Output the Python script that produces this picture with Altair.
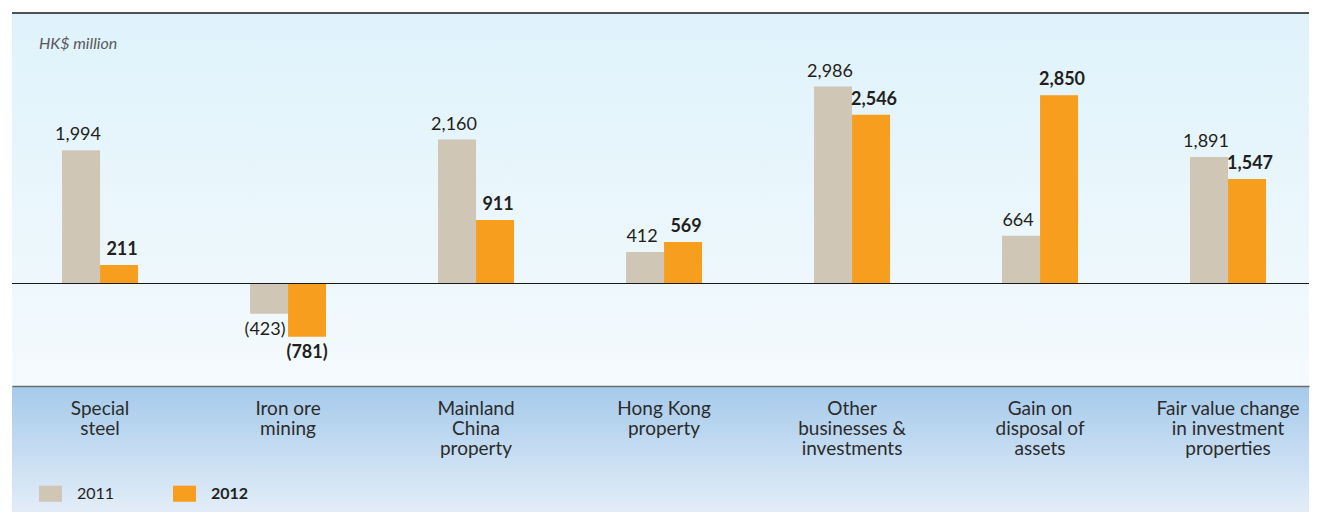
import altair as alt
import pandas as pd

categories = [
    "Special\nsteel",
    "Iron ore\nmining",
    "Mainland\nChina\nproperty",
    "Hong Kong\nproperty",
    "Other\nbusinesses &\ninvestments",
    "Gain on\ndisposal of\nassets",
    "Fair value change\nin investment\nproperties",
]
years = ["2011", "2012"]
values_2011 = [1994, -423, 2160, 412, 2986, 664, 1891]
values_2012 = [211, -781, 911, 569, 2546, 2850, 1547]

rows = []
for i, c in enumerate(categories):
    rows.append({"cat": c, "year": "2011", "value": values_2011[i]})
    rows.append({"cat": c, "year": "2012", "value": values_2012[i]})
df = pd.DataFrame(rows)

FONT = "Lato"
TXT = "#231f20"
W, H = 1297, 373
BW = 38

xscale = alt.Scale(domain=categories, paddingInner=0.596, paddingOuter=0.2475, align=0.538)
yscale = alt.Scale(domain=[-1594, 4207], nice=False, zero=False)
cscale = alt.Scale(domain=years, range=["#cfc6b6", "#f79e1e"])

base = alt.Chart(df).transform_calculate(
    label="datum.value < 0 ? '(' + format(abs(datum.value), ',') + ')' : format(datum.value, ',')"
)

xenc = alt.X(
    "cat:N", scale=xscale, sort=categories, title=None,
    axis=alt.Axis(
        labelExpr="split(datum.value, '\\n')", labelAngle=0, ticks=False, tickSize=0,
        labelPadding=13, labelFontSize=19, labelFont=FONT, labelColor="#2b2b2b",
        labelLineHeight=20, labelBaseline="top", domain=True, domainColor="#6b6b6b",
        domainWidth=1.5, grid=False, zindex=2,
    ),
)
yenc = alt.Y("value:Q", scale=yscale, axis=None)


def grad(c1, c2, c3=None):
    stops = [{"offset": 0, "color": c1}]
    if c3:
        stops += [{"offset": 0.72, "color": c2}, {"offset": 1, "color": c3}]
    else:
        stops += [{"offset": 1, "color": c2}]
    return alt.LinearGradient(gradient="linear", x1=0, y1=0, x2=0, y2=1,
                              stops=[alt.GradientStop(**s) for s in stops])


bg = alt.Chart(alt.Data(values=[{}])).mark_rect(
    color=grad("#dff2fb", "#eef8fc", "#f5fafe")
).encode(x=alt.value(0), x2=alt.value(W), y=alt.value(0), y2=alt.value(H))

band = alt.Chart(alt.Data(values=[{}])).mark_rect(
    color=grad("#a5caeb", "#e3edf8")
).encode(x=alt.value(0), x2=alt.value(W), y=alt.value(H), y2=alt.value(H + 126))

top_rule = alt.Chart(alt.Data(values=[{}])).mark_rule(color="#1a1a1a", strokeWidth=1.5).encode(
    x=alt.value(0), x2=alt.value(W), y=alt.value(0)
)
zero_rule = alt.Chart(alt.Data(values=[{"zero": 0}])).mark_rule(color="#1a1a1a", strokeWidth=1).encode(
    x=alt.value(0), x2=alt.value(W), y=alt.Y("zero:Q", scale=yscale, axis=None)
)

unit = alt.Chart(alt.Data(values=[{}])).mark_text(
    text="HK$ million", font=FONT, fontSize=16, fontStyle="italic", color="#5a5a5a",
    align="left", baseline="alphabetic"
).encode(x=alt.value(27), y=alt.value(36))

color_enc = alt.Color(
    "year:N", scale=cscale, sort=years, title=None,
    legend=alt.Legend(
        orient="none", legendX=27, legendY=469, direction="horizontal",
        symbolType="M-1,-0.7H1V0.7H-1Z", symbolSize=529, symbolStrokeWidth=0,
        labelFont=FONT, labelFontSize=16, labelColor=TXT, labelOffset=15,
        labelFontWeight=alt.ExprRef(expr="datum.label == '2012' ? 'bold' : 'normal'"),
        columnPadding=58, padding=0, symbolOpacity=1,
    ),
)


def sub(year, sign):
    cond = "datum.value >= 0" if sign > 0 else "datum.value < 0"
    return base.transform_filter(f"datum.year == '{year}' && {cond}")


bars = []
texts = []
for year in years:
    shift = -BW / 2 if year == "2011" else BW / 2
    weight = "normal" if year == "2011" else "bold"
    for sign in (1, -1):
        d = sub(year, sign)
        bars.append(
            d.mark_bar(xOffset=shift, yOffset=-5 if sign > 0 else 3, width=BW, opacity=1)
            .encode(x=xenc, y=yenc, y2=alt.datum(0), color=color_enc)
        )
        if sign > 0:
            dx = shift + (-3 if year == "2011" else 3)
        else:
            dx = shift + (-4 if year == "2011" else 0)
        texts.append(
            d.mark_text(
                font=FONT, fontSize=18, fontWeight=weight, color=TXT,
                dx=dx, dy=-15 if sign > 0 else 10,
                baseline="alphabetic" if sign > 0 else "top", align="center",
            ).encode(x=xenc, y=yenc, text="label:N")
        )

chart = alt.layer(bg, band, top_rule, unit, *bars, zero_rule, *texts).properties(
    width=W, height=H,
    padding={"left": 3, "top": 4, "right": 0, "bottom": 0},
    background="white",
).configure_view(stroke=None).configure_axis(grid=False)

chart.save("out.html", embed_options={"renderer": "svg", "actions": False})
